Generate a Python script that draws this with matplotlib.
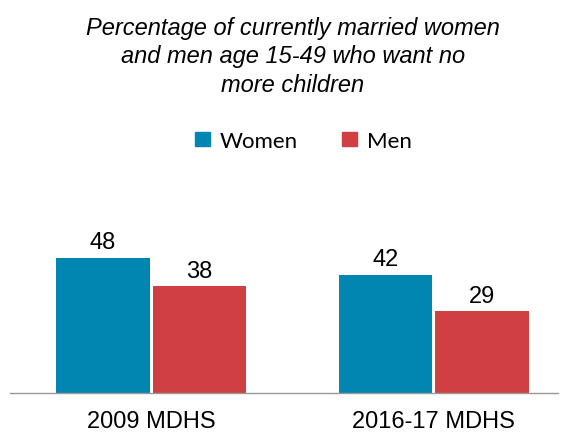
import matplotlib
matplotlib.use('Agg')
import matplotlib.pyplot as plt
import matplotlib.patches as mpatches
import numpy as np

WOMEN_COLOR = '#0086B0'
MEN_COLOR = '#D04043'

surveys = ['2009 MDHS', '2016-17 MDHS']
women = [48, 42]
men = [38, 29]
title = 'Percentage of currently married women\nand men age 15-49 who want no\nmore children'

plt.rcParams['font.family'] = ['Liberation Sans', 'DejaVu Sans']

fig = plt.figure(figsize=(5.65, 4.35), dpi=100)
ax = fig.add_axes([10/565, 41/435, 548/565, 234/435])

x = np.arange(len(surveys))
width = 0.33
off = 0.171
b1 = ax.bar(x - off, women, width, color=WOMEN_COLOR)
b2 = ax.bar(x + off, men, width, color=MEN_COLOR)

for bars in (b1, b2):
    for b in bars:
        ax.text(b.get_x() + b.get_width()/2, b.get_height() + 1.6, f'{b.get_height():.0f}',
                ha='center', va='bottom', fontsize=17)

ax.set_xlim(-0.5, 1.44)
ax.set_ylim(0, 83.2)
ax.set_xticks(x)
ax.set_xticklabels(surveys, fontsize=17)
ax.tick_params(axis='x', length=0, pad=12)
ax.set_yticks([])
for s in ['top', 'right', 'left']:
    ax.spines[s].set_visible(False)
ax.spines['bottom'].set_color('#999999')
ax.spines['bottom'].set_linewidth(1)

fig.text(0.518, 0.962, title, ha='center', va='top', fontsize=17,
         style='italic', linespacing=1.33)

handles = [mpatches.Patch(color=WOMEN_COLOR, label='Women'),
           mpatches.Patch(color=MEN_COLOR, label='Men')]
fig.legend(handles=handles, loc='center', bbox_to_anchor=(0.537, 0.674), ncol=2,
           frameon=False, prop={'family': 'Lato', 'size': 16},
           handlelength=0.65, handleheight=0.65, handletextpad=0.45, columnspacing=2.0)

fig.savefig('out.png', dpi=100)
